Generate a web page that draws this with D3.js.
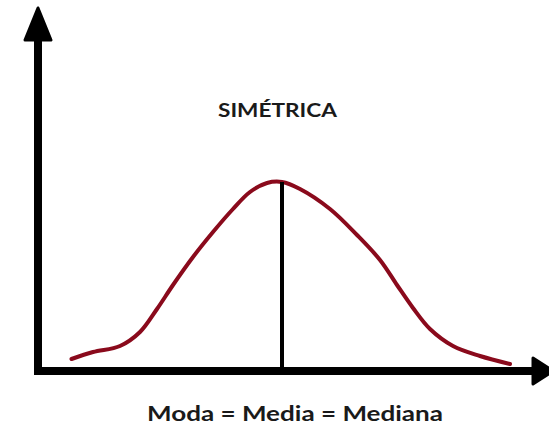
<!DOCTYPE html>
<html>
<head>
<meta charset="utf-8">
<script src="https://cdn.jsdelivr.net/npm/d3@7"></script>
<style>
  html, body { margin: 0; padding: 0; background: #ffffff; }
  svg { display: block; }
</style>
</head>
<body>
<svg id="chart" width="549" height="425"></svg>
<script>
// Symmetric distribution: curve sample points (x on 0-100, relative frequency on 0-100)
const curveX = [6.7, 11, 16.4, 20.4, 23.8, 27, 31, 35, 39, 42.4, 45.8, 48.8, 52.4, 58.4, 63.8, 68.4, 71.8, 75, 78.4, 83, 88.4, 94.4];
const curveY = [6, 9.5, 12.5, 19.5, 31, 43, 57, 69.5, 81, 89.5, 94, 94.5, 91, 81, 68, 55.5, 43, 31.5, 21, 12.5, 7.5, 3.5];
// Mode = mean = median position and its height
const centerX = [48.8];
const centerY = [94.5];
const titleText = ["SIMÉTRICA"];
const axisLabel = ["Moda = Media = Mediana"];

const svg = d3.select("#chart");

// Value 0 sits on the horizontal axis; two pixels per unit vertically
const x = d3.scaleLinear().domain([0, 100]).range([38, 538]);
const y = d3.scaleLinear().domain([0, 100]).range([371, 171]);

// Axes: thick black strokes with arrowheads
const axisColor = "#000";
svg.append("line")
  .attr("x1", x(0)).attr("y1", y(0) + 4)
  .attr("x2", x(0)).attr("y2", 36)
  .attr("stroke", axisColor).attr("stroke-width", 8);
svg.append("path")
  .attr("d", `M${x(0)},8 L${x(0) + 13},40 L${x(0) - 13},40 Z`)
  .attr("fill", axisColor).attr("stroke", axisColor)
  .attr("stroke-width", 3).attr("stroke-linejoin", "round");

svg.append("line")
  .attr("x1", x(0) - 4).attr("y1", y(0))
  .attr("x2", 538).attr("y2", y(0))
  .attr("stroke", axisColor).attr("stroke-width", 8);
svg.append("path")
  .attr("d", `M553,${y(0)} L533,${y(0) - 13} L533,${y(0) + 13} Z`)
  .attr("fill", axisColor).attr("stroke", axisColor)
  .attr("stroke-width", 3).attr("stroke-linejoin", "round");

// Distribution curve
const pts = curveX.map((v, i) => [v, curveY[i]]);
const line = d3.line()
  .x(d => x(d[0]))
  .y(d => y(d[1]))
  .curve(d3.curveCatmullRom.alpha(0.5));
svg.append("path")
  .datum(pts)
  .attr("d", line)
  .attr("fill", "none")
  .attr("stroke", "#8a0a1c")
  .attr("stroke-width", 4)
  .attr("stroke-linecap", "round")
  .attr("stroke-linejoin", "round");

// Central vertical line
svg.append("line")
  .attr("x1", x(centerX[0])).attr("x2", x(centerX[0]))
  .attr("y1", y(centerY[0])).attr("y2", y(0))
  .attr("stroke", "#000").attr("stroke-width", 4);

// Title and label
svg.append("text")
  .attr("x", 277.5).attr("y", 117)
  .attr("text-anchor", "middle")
  .attr("font-family", "Lato, 'Open Sans', sans-serif")
  .attr("font-weight", "bold")
  .attr("font-size", 19.5)
  .attr("fill", "#1a1a1a")
  .attr("textLength", 119)
  .attr("lengthAdjust", "spacingAndGlyphs")
  .text(titleText[0]);

svg.append("text")
  .attr("x", 295).attr("y", 421)
  .attr("text-anchor", "middle")
  .attr("font-family", "Lato, 'Open Sans', sans-serif")
  .attr("font-weight", "bold")
  .attr("font-size", 20.5)
  .attr("fill", "#1a1a1a")
  .attr("textLength", 296)
  .attr("lengthAdjust", "spacingAndGlyphs")
  .text(axisLabel[0]);
</script>
</body>
</html>
